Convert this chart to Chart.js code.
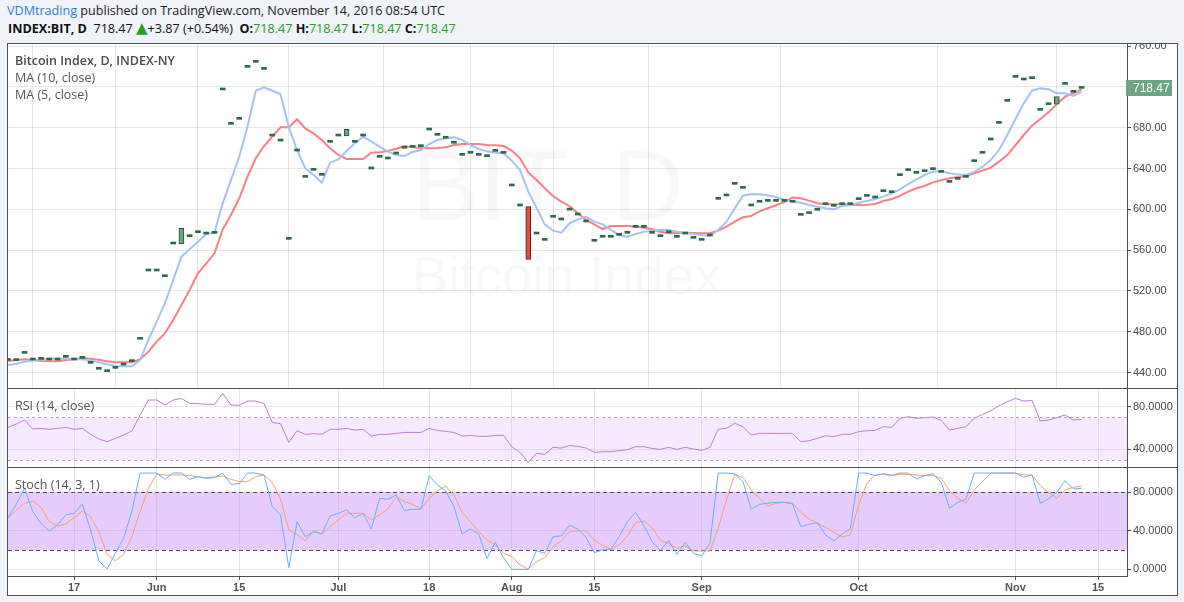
<!DOCTYPE html>
<html><head><meta charset="utf-8">
<script src="https://cdn.jsdelivr.net/npm/chart.js@4.4.1/dist/chart.umd.min.js"></script>
<style>
html,body{margin:0;padding:0;background:#f0f3f7;width:1184px;height:602px;overflow:hidden;font-family:"Open Sans",sans-serif;}
.abs{position:absolute;white-space:nowrap;}
#h1{left:7px;top:2px;font-size:12.6px;line-height:18px;color:#222;}
#h1 .u{color:#2e80cc;}
#h2{left:8px;top:20px;font-size:12.6px;line-height:18px;color:#111;}
#h2 .g{color:#22a022;}
#h2 .t{color:#22a022;font-size:15px;line-height:14px;font-family:"DejaVu Sans",sans-serif;}
#frame{left:7px;top:43px;width:1171px;height:553px;border:1px solid #505050;box-sizing:border-box;background:#fff;}
.sep{left:8px;width:1169px;height:1px;background:#505050;}
.pane{position:absolute;left:8px;width:1169px;overflow:hidden;}
.pane canvas{position:absolute;left:0;top:0;}
.wm{position:absolute;font-family:"Liberation Sans",Arial,sans-serif;color:rgba(0,0,0,0.028);white-space:nowrap;line-height:1;}
.leg{font-size:12.5px;line-height:17px;color:#555;z-index:5;}
.leg b{color:#4a4a4a;font-weight:600;}
</style></head>
<body>
<div id="h1" class="abs"><span class="u">VDMtrading</span> published on TradingView.com, November 14, 2016 08:54 UTC</div>
<div id="h2" class="abs"><b>INDEX:BIT, D</b>&nbsp; 718.47 <span class="t">▲</span>+3.87 (+0.54%)&nbsp; <b>O:</b><span class="g">718.47</span> <b>H:</b><span class="g">718.47</span> <b>L:</b><span class="g">718.47</span> <b>C:</b><span class="g">718.47</span></div>
<div id="frame" class="abs"></div>
<div class="pane" style="top:44px;height:344px;">
  <div class="wm" style="left:404px;top:91px;font-size:100px;">BIT, D</div>
  <div class="wm" style="left:404px;top:204px;font-size:54px;">Bitcoin Index</div>
  <canvas id="cMain" width="1169" height="344"></canvas>
</div>
<div class="abs sep" style="top:388px;"></div>
<div class="pane" style="top:389px;height:78px;"><canvas id="cRsi" width="1169" height="78"></canvas></div>
<div class="abs sep" style="top:467px;"></div>
<div class="pane" style="top:468px;height:127px;"><canvas id="cSto" width="1169" height="127"></canvas></div>
<div class="abs leg" style="left:15px;top:52px;"><b>Bitcoin Index, D, INDEX-NY</b></div>
<div class="abs leg" style="left:15px;top:69px;">MA (10, close)</div>
<div class="abs leg" style="left:15px;top:86px;">MA (5, close)</div>
<div class="abs leg" style="left:15px;top:397px;">RSI (14, close)</div>
<div class="abs leg" style="left:15px;top:476px;">Stoch (14, 3, 1)</div>
<script>
const tickIndex = [8, 18, 28, 40, 51, 61, 71, 84, 103, 122, 132];
const tickLabels = ['17', 'Jun', '15', 'Jul', '18', 'Aug', '15', 'Sep', 'Oct', 'Nov', '15'];

const closes = [
 452.0, 451.8, 458.9, 452.4, 453.0, 452.4, 452.4, 455.0, 452.4, 454.0,
 449.1, 443.3, 441.0, 444.2, 447.5, 450.8, 472.7, 539.6, 539.6, 534.0,
 566.0, 581.4, 573.2, 577.1, 575.8, 576.5, 716.9, 683.3, 688.2, 739.1,
 744.0, 737.1, 671.8, 666.9, 570.6, 657.1, 631.3, 638.2, 633.3, 665.6,
 671.8, 678.4, 665.6, 671.8, 639.5, 650.9, 649.3, 654.2, 659.8, 660.7,
 661.4, 677.7, 672.5, 669.6, 664.7, 652.9, 654.9, 652.9, 651.6, 656.8,
 654.9, 622.9, 603.3, 551.0, 575.8, 569.6, 592.2, 589.6, 599.3, 594.4,
 587.6, 568.7, 572.6, 572.6, 574.5, 576.5, 582.4, 582.4, 576.5, 573.2,
 577.1, 572.6, 575.8, 571.6, 569.6, 573.9, 609.8, 613.1, 624.5, 620.6,
 603.3, 606.9, 607.8, 607.8, 607.8, 606.9, 594.1, 595.8, 599.0, 604.6,
 602.9, 604.6, 604.6, 609.5, 612.7, 611.1, 617.3, 616.3, 633.0, 637.9,
 635.3, 636.9, 638.9, 636.2, 626.4, 629.4, 631.3, 646.7, 654.9, 667.9,
 684.2, 705.8, 729.3, 726.7, 728.0, 697.0, 702.5, 710.4, 722.4, 714.6,
 718.47];
const opens = [
 452.0, 451.8, 458.9, 452.4, 453.0, 452.4, 452.4, 455.0, 452.4, 454.0,
 449.1, 443.3, 441.0, 444.2, 447.5, 450.8, 472.7, 539.6, 539.6, 534.0,
 566.0, 566.0, 573.2, 577.1, 575.8, 576.5, 716.9, 683.3, 688.2, 739.1,
 744.0, 737.1, 671.8, 666.9, 570.6, 657.1, 631.3, 638.2, 633.3, 665.6,
 671.8, 671.8, 665.6, 671.8, 639.5, 650.9, 649.3, 654.2, 659.8, 660.7,
 661.4, 677.7, 672.5, 669.6, 664.7, 652.9, 654.9, 652.9, 651.6, 656.8,
 654.9, 622.9, 603.3, 602.6, 575.8, 569.6, 592.2, 589.6, 599.3, 594.4,
 587.6, 568.7, 572.6, 572.6, 574.5, 576.5, 582.4, 582.4, 576.5, 573.2,
 577.1, 572.6, 575.8, 571.6, 569.6, 573.9, 609.8, 613.1, 624.5, 620.6,
 603.3, 606.9, 607.8, 607.8, 607.8, 606.9, 594.1, 595.8, 599.0, 604.6,
 602.9, 604.6, 604.6, 609.5, 612.7, 611.1, 617.3, 616.3, 633.0, 637.9,
 635.3, 636.9, 638.9, 636.2, 626.4, 629.4, 631.3, 646.7, 654.9, 667.9,
 684.2, 705.8, 729.3, 726.7, 728.0, 697.0, 702.5, 702.9, 722.4, 714.6,
 718.47];
const maBlue = [
 447.5, 448.8, 450.8, 451.8, 453.1, 453.7, 453.7, 453.4, 453.1, 453.1,
 451.8, 450.2, 448.2, 446.5, 446.2, 446.2, 452.4, 472.0, 490.0, 507.9,
 530.8, 553.6, 560.8, 568.3, 575.8, 577.1, 605.9, 628.7, 651.6, 681.0,
 716.2, 719.5, 716.2, 712.7, 680.3, 658.1, 640.2, 633.6, 626.1, 645.7,
 649.0, 657.1, 664.7, 671.2, 666.3, 661.4, 656.5, 653.2, 652.2, 656.2,
 658.1, 664.0, 667.9, 669.6, 670.5, 667.9, 663.0, 659.1, 656.8, 655.5,
 654.9, 647.7, 638.5, 617.3, 601.6, 585.3, 579.1, 577.1, 586.3, 590.2,
 592.8, 587.9, 585.3, 579.8, 574.9, 573.2, 575.8, 578.1, 579.1, 579.8,
 579.8, 578.1, 576.5, 575.8, 574.9, 573.9, 579.8, 587.9, 601.0, 613.4,
 615.0, 614.7, 613.7, 612.1, 609.1, 608.2, 606.5, 604.2, 602.6, 601.0,
 600.0, 603.3, 604.2, 606.5, 608.2, 610.1, 612.4, 615.7, 619.6, 624.8,
 629.4, 633.6, 636.9, 637.6, 635.3, 634.0, 633.6, 636.6, 641.8, 648.3,
 658.1, 672.8, 688.5, 703.8, 716.2, 718.5, 717.6, 713.6, 713.6, 711.0,
 715.3];
const maRed = [
 451.4, 452.4, 453.1, 452.4, 451.4, 451.1, 451.1, 452.4, 453.1, 454.0,
 453.7, 452.7, 451.1, 450.1, 450.1, 450.1, 453.1, 460.6, 470.4, 478.5,
 491.6, 506.3, 521.0, 537.3, 547.1, 556.9, 580.4, 594.4, 610.8, 632.0,
 650.0, 662.0, 671.2, 680.3, 680.3, 688.2, 679.3, 674.4, 667.9, 659.8,
 653.2, 649.3, 649.3, 649.3, 655.5, 655.8, 657.1, 659.4, 662.0, 660.7,
 660.1, 659.8, 660.1, 660.7, 663.0, 664.0, 664.0, 664.0, 663.0, 662.7,
 662.0, 657.5, 650.0, 636.2, 628.7, 620.6, 613.1, 607.5, 603.3, 596.1,
 589.6, 585.3, 580.7, 583.7, 583.7, 583.7, 583.0, 582.0, 580.4, 578.1,
 576.5, 576.8, 577.1, 576.8, 576.5, 576.5, 579.1, 583.0, 587.9, 592.2,
 593.5, 598.0, 601.0, 604.0, 607.0, 611.5, 610.8, 608.5, 605.9, 604.9,
 604.9, 604.9, 604.6, 604.2, 604.6, 605.2, 608.2, 610.1, 613.1, 617.3,
 620.6, 622.9, 626.4, 628.4, 630.4, 631.7, 632.7, 635.3, 637.9, 640.8,
 646.7, 653.2, 663.0, 672.8, 682.0, 688.5, 695.0, 703.2, 710.4, 713.6,
 717.6];
const rsi = [
 60.6, 63.8, 67.5, 59.1, 59.7, 58.8, 59.7, 60.6, 58.8, 59.7,
 54.1, 49.7, 47.2, 50.3, 53.4, 57.2, 72.2, 86.3, 86.3, 81.6,
 86.3, 87.8, 83.1, 82.8, 82.2, 82.2, 92.5, 81.6, 81.3, 85.3,
 85.3, 83.1, 65.3, 64.0, 46.6, 57.5, 54.1, 54.7, 54.1, 58.8,
 58.8, 59.7, 58.1, 58.8, 52.5, 54.1, 54.1, 55.0, 55.9, 55.9,
 55.9, 59.7, 57.8, 56.9, 55.9, 52.5, 53.1, 52.2, 52.2, 53.1,
 53.1, 42.5, 37.2, 27.8, 36.3, 35.3, 41.9, 41.2, 43.6, 42.8,
 41.3, 37.2, 37.8, 37.8, 38.8, 39.7, 42.5, 42.5, 40.9, 40.0,
 41.9, 40.0, 41.9, 40.3, 39.1, 41.9, 58.8, 59.7, 64.4, 61.3,
 53.4, 55.0, 55.0, 55.0, 55.0, 55.0, 47.2, 48.1, 50.3, 52.8,
 51.9, 54.1, 54.1, 56.6, 57.5, 57.8, 61.3, 60.6, 69.1, 70.6,
 69.1, 69.7, 70.3, 67.2, 58.1, 59.7, 61.3, 69.1, 72.8, 76.3,
 80.9, 84.7, 87.8, 85.3, 85.9, 66.6, 67.5, 69.7, 72.2, 67.5,
 68.1];
const stochK = [
 53.7, 67.5, 84.2, 59.9, 47.8, 39.8, 46.1, 56.5, 58.2, 67.9,
 40.9, 8.7, 0.3, 16.6, 32.2, 60.6, 100, 100, 100, 93.5,
 100, 100, 93.5, 96.2, 94.5, 95.2, 100, 88.3, 89.0, 100,
 100, 98.0, 65.1, 56.5, 1.7, 49.5, 33.9, 39.1, 36.7, 55.4,
 58.2, 61.6, 53.7, 57.8, 41.9, 73.8, 72.7, 77.2, 61.0, 62.3,
 62.3, 97.3, 87.6, 81.4, 65.1, 36.7, 41.9, 36.7, 11.4, 28.1,
 12.1, 0, 0, 0, 19.4, 16.6, 33.9, 34.8, 45.8, 41.6,
 33.2, 17.3, 20.1, 20.8, 33.9, 49.5, 59.2, 45.4, 28.7, 19.7,
 29.8, 15.6, 28.1, 16.6, 13.9, 27.0, 100, 100, 99.4, 91.1,
 62.3, 67.5, 68.6, 69.6, 69.6, 67.9, 44.3, 46.8, 48.5, 35.7,
 29.4, 36.5, 42.1, 100, 100, 97.3, 99.4, 97.7, 100, 100,
 93.9, 97.3, 99.4, 90.4, 63.4, 69.6, 72.7, 100, 100, 100,
 100, 100, 100, 95.6, 98.0, 68.6, 73.1, 80.0, 92.1, 83.5,
 84.2];
const stochD = [
 53.0, 61.6, 68.6, 71.0, 64.4, 49.5, 45.0, 47.1, 53.7, 60.6,
 54.7, 39.1, 15.6, 8.7, 15.6, 33.9, 59.9, 84.2, 98.7, 98.0,
 98.0, 98.0, 97.3, 96.3, 95.2, 95.9, 97.0, 93.5, 91.1, 91.1,
 96.3, 98.0, 90.0, 73.0, 40.9, 36.4, 29.4, 40.2, 36.7, 44.3,
 51.3, 58.2, 58.2, 58.2, 51.3, 56.5, 62.7, 74.8, 70.3, 67.5,
 62.7, 73.8, 81.4, 86.6, 77.2, 59.2, 49.5, 39.1, 30.5, 25.3,
 16.6, 13.2, 4.5, 0.3, 8.0, 12.1, 23.5, 29.6, 39.1, 40.2,
 39.8, 30.1, 24.9, 20.8, 25.3, 34.6, 48.5, 50.2, 43.3, 30.1,
 26.7, 21.8, 24.6, 19.0, 19.0, 19.0, 42.6, 72.0, 98.7, 95.2,
 82.4, 73.8, 65.8, 68.6, 69.6, 68.6, 59.2, 52.3, 47.8, 43.6,
 38.4, 33.4, 35.7, 66.8, 89.4, 98.0, 98.7, 97.3, 98.7, 98.7,
 98.0, 97.3, 97.3, 94.5, 82.1, 73.8, 68.6, 82.4, 91.1, 99.7,
 100, 100, 100, 98.0, 98.0, 86.9, 79.7, 73.8, 82.4, 85.2,
 86.6];

const priceTicks = [440, 480, 520, 560, 600, 640, 680, 720, 760];
const rsiTicks = [40, 80];
const stochTicks = [0, 40, 80];
const rsiBand = [30, 70];
const stochBand = [20, 80];

const AXIS_FONT = {family: '"Liberation Sans", Arial, sans-serif', size: 11};
const GRID = 'rgba(0,0,0,0.095)';
const DARK = '#505050';

function pts(arr) { return arr.map((v, i) => ({x: i, y: v})); }

function xScale(show) {
  return {
    type: 'linear', min: 0, max: 135.5, offset: false,
    afterBuildTicks: s => { s.ticks = tickIndex.map(v => ({value: v})); },
    afterFit: s => { s.height = show ? 19 : 0; s.paddingLeft = 0; s.paddingRight = 0; },
    grid: {color: GRID, drawTicks: show, tickLength: 4, tickColor: DARK},
    border: {display: show, color: DARK},
    ticks: {display: show, autoSkip: false, maxRotation: 0, padding: 1,
      font: Object.assign({}, AXIS_FONT, {weight: 'bold'}), color: '#555',
      callback: v => { const k = tickIndex.indexOf(v); return k >= 0 ? tickLabels[k] : ''; }}
  };
}
function yScale(min, max, ticks, dec) {
  return {
    position: 'right', min: min, max: max,
    afterBuildTicks: s => { s.ticks = ticks.map(v => ({value: v})); },
    afterFit: s => { s.width = 50; s.paddingTop = 0; s.paddingBottom = 0; },
    grid: {color: GRID, drawTicks: true, tickLength: 4, tickColor: DARK},
    border: {display: true, color: DARK},
    ticks: {padding: 2, font: AXIS_FONT, color: '#4a4a4a', callback: v => Number(v).toFixed(dec)}
  };
}
function bandPlugin(band, fill, dashColor, dash) {
  return {
    id: 'band',
    beforeDatasetsDraw(chart) {
      const {ctx, chartArea: a, scales: {y}} = chart;
      const p0 = y.getPixelForValue(band[0]), p1 = y.getPixelForValue(band[1]);
      ctx.save();
      ctx.fillStyle = fill;
      ctx.fillRect(a.left, p1, a.right - a.left, p0 - p1);
      ctx.strokeStyle = dashColor; ctx.lineWidth = 1; ctx.setLineDash(dash);
      [p0, p1].forEach(p => {
        const yy = Math.round(p) + 0.5;
        ctx.beginPath(); ctx.moveTo(a.left, yy); ctx.lineTo(a.right, yy); ctx.stroke();
      });
      ctx.restore();
    }
  };
}
const priceLabel = {
  id: 'priceLabel',
  afterDraw(chart) {
    const {ctx, chartArea: a, scales: {y}} = chart;
    const last = closes[closes.length - 1];
    const py = Math.round(y.getPixelForValue(last));
    ctx.save();
    ctx.fillStyle = '#6ba583';
    ctx.fillRect(a.right - 1, py - 8, 46, 16);
    ctx.fillStyle = '#ffffff';
    ctx.font = '12px "Liberation Sans", Arial, sans-serif';
    ctx.textBaseline = 'middle';
    ctx.fillText(last.toFixed(2), a.right + 6, py + 1);
    ctx.restore();
  }
};
const base = {
  responsive: false, maintainAspectRatio: false, animation: false,
  layout: {padding: 0},
  plugins: {legend: {display: false}, tooltip: {enabled: false}},
  elements: {point: {radius: 0}, line: {tension: 0}}
};
function isDash(i) { return closes[i] === opens[i]; }

new Chart(document.getElementById('cMain'), {
  type: 'line',
  data: {datasets: [
    {type: 'bar', order: 0, data: closes.map((c, i) => ({x: i, y: [opens[i], c]})),
      barThickness: 5, minBarLength: 2, borderSkipped: false,
      borderWidth: ctx => isDash(ctx.dataIndex) ? 0 : 1,
      backgroundColor: ctx => { const i = ctx.dataIndex; if (isDash(i)) return '#2d6a49'; return closes[i] < opens[i] ? '#d75442' : '#6ba583'; },
      borderColor: ctx => { const i = ctx.dataIndex; return closes[i] < opens[i] ? '#5b1a13' : '#225437'; }},
    {data: pts(maBlue), order: 1, borderColor: '#a4c3f5', borderWidth: 2},
    {data: pts(maRed), order: 2, borderColor: '#fb7f84', borderWidth: 2}
  ]},
  options: Object.assign({}, base, {scales: {x: xScale(false), y: yScale(424.97, 761.96, priceTicks, 2)}}),
  plugins: [priceLabel]
});

new Chart(document.getElementById('cRsi'), {
  type: 'line',
  data: {datasets: [{data: pts(rsi), borderColor: '#c27bd8', borderWidth: 1}]},
  options: Object.assign({}, base, {scales: {x: xScale(false), y: yScale(23.48, 96.6, rsiTicks, 4)}}),
  plugins: [bandPlugin(rsiBand, 'rgba(200,140,250,0.18)', '#bda6c8', [3, 3])]
});

new Chart(document.getElementById('cSto'), {
  type: 'line',
  data: {datasets: [
    {data: pts(stochK), borderColor: '#66b0ff', borderWidth: 1},
    {data: pts(stochD), borderColor: '#f7a06c', borderWidth: 1}
  ]},
  options: Object.assign({}, base, {scales: {x: xScale(true), y: yScale(-6.96, 105.25, stochTicks, 4)}}),
  plugins: [bandPlugin(stochBand, 'rgba(190,120,250,0.37)', '#5a4866', [4, 3])]
});
</script>
</body></html>
